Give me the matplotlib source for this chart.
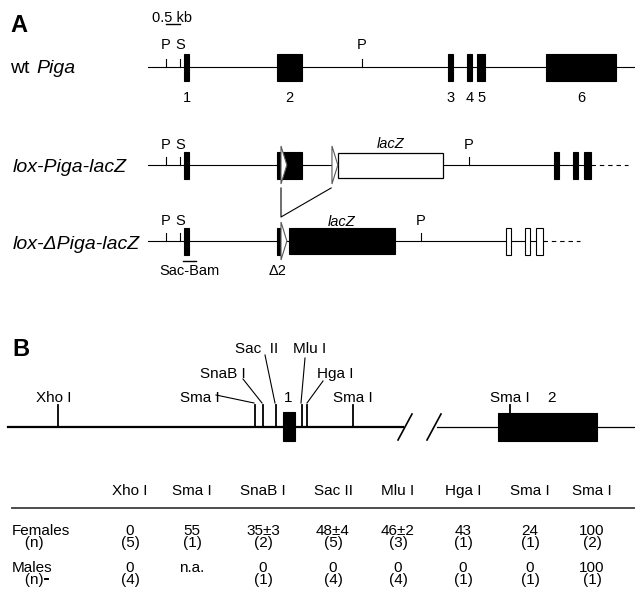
import matplotlib
matplotlib.use('Agg')
import matplotlib.pyplot as plt
from matplotlib.patches import Rectangle, Polygon

plt.rcParams['font.family'] = ['Liberation Sans', 'DejaVu Sans']

# ---------------- panel A data: positions in kb along the map -------------
KB_PX = 28.0      # 0.5 kb scale bar is 14 px wide
MAP_X0 = 148.0    # left end of the gene lines

scale_bar = (0.64, 1.14)

wt_exons = [(1.30, 1.45), (4.61, 5.50), (10.71, 10.89), (11.39, 11.57), (11.75, 12.04), (14.21, 16.71)]
wt_exon_names = ['1', '2', '3', '4', '5', '6']
wt_sites = [0.64, 1.14, 7.64]
wt_site_names = ['P', 'S', 'P']

lox_exons = [(1.30, 1.45), (4.61, 5.50), (14.50, 14.68), (15.18, 15.36), (15.57, 15.82)]
lox_sites = [0.64, 1.14, 11.46]
lox_site_names = ['P', 'S', 'P']
lox_loxp = [4.75, 6.57]
lox_lacz = (6.79, 10.54)
lox_dash = (15.82, 17.14)

del_exons = [(1.30, 1.45), (4.61, 4.75)]
del_open_exons = [(12.79, 12.96), (13.46, 13.64), (13.86, 14.11)]
del_sites = [0.64, 1.14, 9.75]
del_site_names = ['P', 'S', 'P']
del_loxp = [4.75]
del_lacz = (5.04, 8.82)
del_dash = (14.11, 15.43)
sac_bam = (1.25, 1.71)

# ---------------- panel B data (map units) ----------------
b_sites = ['Xho I', 'Sma I', 'SnaB I', 'Sac  II', 'Mlu I', 'Hga I', 'Sma I', 'Sma I']
b_site_pos = [58, 255, 263, 276, 302, 307, 353, 510]
b_exons = [(283, 295), (498, 597)]
b_exon_names = ['1', '2']
b_break = (405, 434)

# ---------------- table ----------------
enzymes = ['Xho I', 'Sma I', 'SnaB I', 'Sac II', 'Mlu I', 'Hga I', 'Sma I', 'Sma I']
females = ['0', '55', '35±3', '48±4', '46±2', '43', '24', '100']
females_n = [5, 1, 2, 5, 3, 1, 1, 2]
males = ['0', 'n.a.', '0', '0', '0', '0', '0', '100']
males_n = [4, None, 1, 4, 4, 1, 1, 1]

W, H = 635, 616
fig = plt.figure(figsize=(W / 100, H / 100), dpi=100)

# axes in kb for the gene maps of panel A
axA = fig.add_axes([0, 0, 1, 1])
axA.set_xlim(-MAP_X0 / KB_PX, (W - MAP_X0) / KB_PX)
axA.set_ylim(H, 0)
axA.axis('off')

# axes in pixel-like units for labels, panel B and the table
ax = fig.add_axes([0, 0, 1, 1])
ax.set_xlim(0, W)
ax.set_ylim(H, 0)
ax.axis('off')
ax.patch.set_alpha(0)

small = 10.5
label_fs = 14
tab_fs = 11
bfs = 11


def exon(a, b, y, h=27, filled=True):
    axA.add_patch(Rectangle((a, y - h / 2), b - a, h, fc='k' if filled else 'w',
                            ec='k', lw=0.8, zorder=3))


def sites(pos, names, y, base):
    for x, n in zip(pos, names):
        axA.plot([x, x], [y - 8, y], color='k', lw=0.8)
        axA.text(x, base, n, ha='center', va='baseline', fontsize=small)


def loxp(p, y):
    axA.add_patch(Polygon([(p, y - 19), (p + 0.21, y), (p, y + 19)], closed=True,
                          fc='w', ec='0.35', lw=0.8, zorder=4))


# --- wt Piga
y1 = 67
axA.plot([0, (W - MAP_X0) / KB_PX], [y1, y1], color='k', lw=0.8)
for (a, b), n in zip(wt_exons, wt_exon_names):
    exon(a, b, y1)
    axA.text((a + b) / 2, 102, n, ha='center', va='baseline', fontsize=small)
sites(wt_sites, wt_site_names, y1, 49)

# scale bar
axA.plot(scale_bar, [24, 24], color='k', lw=1)
axA.text((152 - MAP_X0) / KB_PX, 22, '0.5 kb', ha='left', va='baseline', fontsize=small)

# --- lox-Piga-lacZ
y2 = 165
axA.plot([0, lox_dash[0]], [y2, y2], color='k', lw=0.8)
axA.plot(lox_dash, [y2, y2], color='k', lw=0.8, ls=(0, (4, 3.5)))
for a, b in lox_exons:
    exon(a, b, y2)
axA.add_patch(Rectangle((lox_lacz[0], y2 - 12.5), lox_lacz[1] - lox_lacz[0], 25,
                        fc='w', ec='k', lw=0.9, zorder=3))
axA.text(sum(lox_lacz) / 2, 148, 'lacZ', style='italic', ha='center', va='baseline', fontsize=small)
for p in lox_loxp:
    loxp(p, y2)
sites(lox_sites, lox_site_names, y2, 149)

# connector between the two loxP sites
axA.plot([lox_loxp[0], lox_loxp[0], lox_loxp[1] - 0.03], [188, 217, 188], color='k', lw=0.8)

# --- lox-dPiga-lacZ
y3 = 241
axA.plot([0, del_dash[0]], [y3, y3], color='k', lw=0.8)
axA.plot(del_dash, [y3, y3], color='k', lw=0.8, ls=(0, (4, 3.5)))
for a, b in del_exons:
    exon(a, b, y3)
for a, b in del_open_exons:
    exon(a, b, y3, filled=False)
axA.add_patch(Rectangle((del_lacz[0], y3 - 13), del_lacz[1] - del_lacz[0], 26,
                        fc='k', ec='k', lw=0.8, zorder=3))
axA.text(sum(del_lacz) / 2, 226, 'lacZ', style='italic', ha='center', va='baseline', fontsize=small)
for p in del_loxp:
    loxp(p, y3)
sites(del_sites, del_site_names, y3, 225)
axA.plot(sac_bam, [261, 261], color='k', lw=1)
axA.text(sum(sac_bam) / 2, 275, 'Sac-Bam', ha='center', va='baseline', fontsize=small)
axA.text((278 - MAP_X0) / KB_PX, 275, 'Δ2', ha='center', va='baseline', fontsize=small)

# row labels / panel letters
ax.text(10, 32, 'A', fontsize=17, fontweight='bold', va='baseline')
ax.text(10, 73, 'wt', fontsize=label_fs, va='baseline')
ax.text(36, 73, 'Piga', fontsize=label_fs, style='italic', va='baseline')
ax.text(13, 172, 'lox-Piga-lacZ', fontsize=label_fs, style='italic', va='baseline')
ax.text(13, 249, 'lox-ΔPiga-lacZ', fontsize=label_fs, style='italic', va='baseline')
ax.text(12, 356, 'B', fontsize=17, fontweight='bold', va='baseline')

# ---------------- panel B ----------------
yb = 427
ax.plot([8, b_break[0] - 2], [yb, yb], color='k', lw=1.6)
ax.plot([b_break[1] + 3, W], [yb, yb], color='k', lw=0.9)
for xb in b_break:
    ax.plot([xb - 7, xb + 7], [440, 414], color='k', lw=1.2)

for i, x in enumerate(b_site_pos):
    top = 405
    bottom = yb if i < len(b_site_pos) - 1 else 413
    ax.plot([x, x], [top, bottom], color='k', lw=1.3)

bx = [(283, 412, 29), (498, 413, 28)]
for (a, b), (_, t, h) in zip(b_exons, bx):
    ax.add_patch(Rectangle((a, t), b - a, h, fc='k', ec='k', lw=0.8, zorder=3))

# (label left x, baseline, leader start, leader end)
b_label_layout = [
    (36, 402, None, None),
    (180, 402, (216, 395), (254, 403)),
    (200, 378, (243, 379), (262, 403)),
    (235, 353, (265, 355), (275, 403)),
    (293, 353, (305, 358), (301, 403)),
    (317, 378, (323, 381), (307, 403)),
    (333, 402, None, None),
    (490, 402, None, None),
]
for name, (lx, base, s, e) in zip(b_sites, b_label_layout):
    ax.text(lx, base, name, fontsize=bfs, va='baseline', ha='left')
    if s is not None:
        ax.plot([s[0], e[0]], [s[1], e[1]], color='k', lw=0.8)
ax.text(288, 402, b_exon_names[0], fontsize=bfs, va='baseline', ha='center')
ax.text(552, 402, b_exon_names[1], fontsize=bfs, va='baseline', ha='center')

# ---------------- table ----------------
em = tab_fs * 100 / 72.0


def cell(x, base, gap, s, ha='center'):
    # two tightly stacked lines as one text; first baseline at `base`
    ls = (gap - 0.21 * em) / (0.72 * em)
    ax.text(x, base - 0.72 * em, s, fontsize=tab_fs, ha=ha, va='top',
            linespacing=ls, multialignment=ha)


cols = [130, 192, 263, 333, 398, 463, 530, 592]
for x, e in zip(cols, enzymes):
    ax.text(x, 495, e, fontsize=tab_fs, ha='center', va='baseline')
ax.plot([12, W], [508, 508], color='0.3', lw=1.4)

cell(12, 535, 12.5, 'Females\n   (n)', ha='left')
cell(12, 572, 12.3, 'Males\n   (n)', ha='left')
ax.plot([45, 48], [579, 579], color='k', lw=1.4)   # small stray mark after (n)

for x, v, n in zip(cols, females, females_n):
    cell(x, 535, 12.5, '%s\n(%d)' % (v, n))
for x, v, n in zip(cols, males, males_n):
    if n is None:
        ax.text(x, 572, v, fontsize=tab_fs, ha='center', va='baseline')
    else:
        cell(x, 572, 12.3, '%s\n(%d)' % (v, n))

fig.savefig('out.png', dpi=100, facecolor='white')
